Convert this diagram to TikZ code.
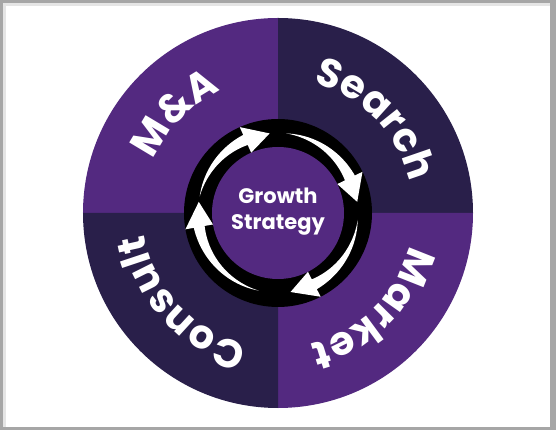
\documentclass[tikz,border=0pt]{standalone}
\usepackage{fontspec}
\setmainfont{Poppins}
\usetikzlibrary{decorations.text}

\definecolor{plum}{RGB}{83,41,128}
\definecolor{nightplum}{RGB}{41,31,74}
\definecolor{framegray}{RGB}{166,166,166}

\begin{document}
\begin{tikzpicture}[x=1pt, y=1pt,
    word/.style={decorate, decoration={text along path, text align=center,
      text={|\bfseries\fontsize{40}{40}\selectfont\color{white}|#1}}},
    ringarrow/.style={fill=white}]

          \useasboundingbox (-278,-217) rectangle (278,213);
          \fill[framegray] (-278,-217) rectangle (278,213);
          \fill[white] (-275,-214) rectangle (272,210);
          \draw[gray!20, line width=3pt] (-273.5,-214) -- (-273.5,208.5) -- (272,208.5);

          \fill[plum] (0,0) -- (90:195) arc[start angle=90, end angle=180, radius=195] -- cycle;
          \fill[nightplum] (0,0) -- (0:195) arc[start angle=0, end angle=90, radius=195] -- cycle;
          \fill[plum] (0,0) -- (270:195) arc[start angle=270, end angle=360, radius=195] -- cycle;
          \fill[nightplum] (0,0) -- (180:195) arc[start angle=180, end angle=270, radius=195] -- cycle;

          \path[word={Search}] (124:135) arc[start angle=124, end angle=-36, radius=135];
          \path[word={M{\&}A}] (216:135) arc[start angle=216, end angle=56, radius=135];
          \path[word={Market}] (35:135) arc[start angle=35, end angle=-125, radius=135];
          \path[word={Consult}] (-57:135) arc[start angle=-57, end angle=-217, radius=135];

          \fill[black] (0,0) circle[radius=94];
          \fill[plum] (0,0) circle[radius=66];

          \foreach \sa/\ea in {168/96, 84/8, -5/-81, -104/-188} {
            \pgfmathsetmacro\hb{\ea+18}
            \pgfmathsetmacro\len{\sa-\hb}
            \fill[ringarrow] plot[domain=\sa:\hb, samples=30] (\x:{80+5.5*(\sa-\x)/\len})
              -- (\hb:94) -- (\ea:80) -- (\hb:66)
              -- plot[domain=\hb:\sa, samples=30] (\x:{80-5.5*(\sa-\x)/\len}) -- cycle;
          }

          \node[font=\bfseries\fontsize{21}{26}\selectfont, text=white, align=center] (core) at (0,1) {Growth\\Strategy};

        \end{tikzpicture}
\end{document}
